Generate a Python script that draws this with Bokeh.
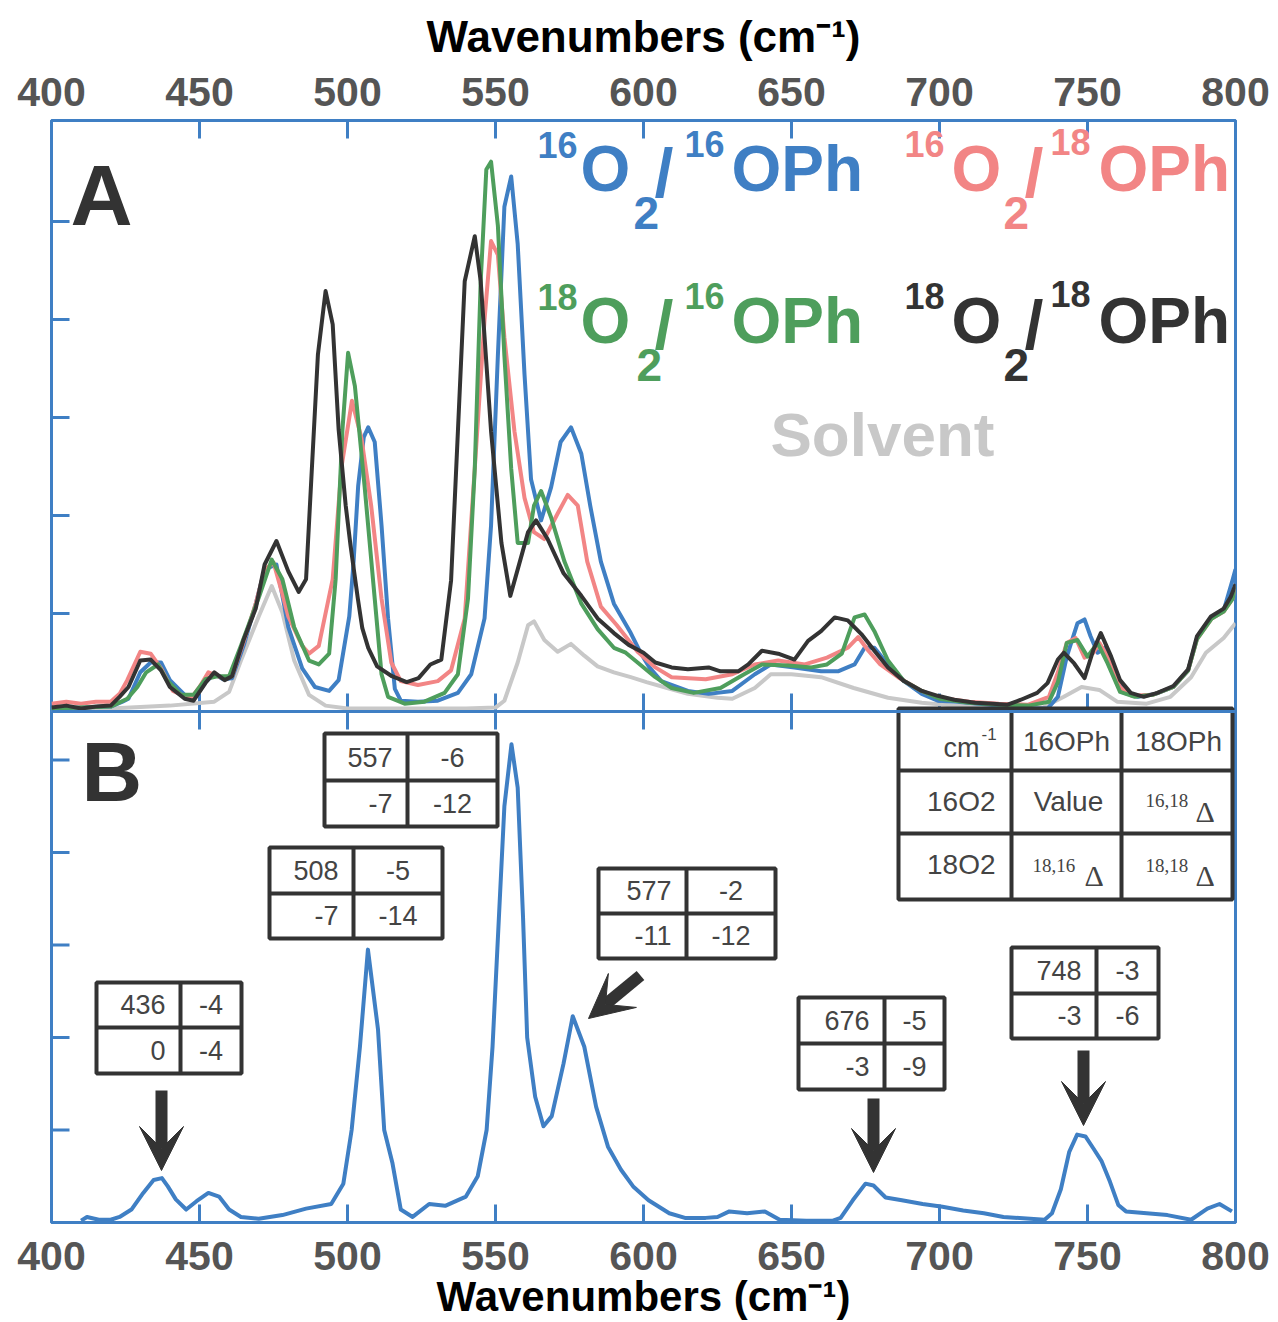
from bokeh.plotting import figure
from bokeh.models import LinearAxis, FixedTicker, Range1d, Span, Label, Arrow, VeeHead
from bokeh.embed import file_html
from bokeh.resources import INLINE

# ---------------- data ----------------
# Panel A: resonance Raman spectra of the four isotopologues + solvent
a16_16_x = [400, 410, 420, 424, 426, 430, 433.5, 437, 440, 445, 448, 452, 455, 458, 461, 465, 469, 472, 476, 480,
            484.7, 489, 493.8, 497, 500.6, 502, 503.6, 505.5, 507, 509.2, 511.5, 513.7, 516, 518, 523.8, 530.5, 537.3,
            541.8, 546.3, 548.5, 550.8, 553, 555.3, 557.5, 559.8, 562, 565.4, 568.8, 572, 575.5, 579, 582, 585.6, 590,
            595.7, 599, 602, 606, 615, 622, 630, 637.6, 643, 651, 660, 665.7, 671.3, 674.7, 678, 682.6, 688, 694, 699.4,
            706, 717, 728.6, 736.5, 740, 743, 746.6, 749, 751, 753.4, 756, 759, 762.4, 767, 773, 779, 784, 787, 791.7,
            796, 799, 800]
a16_16_y = [0.03, 0.04, 0.05, 0.1, 0.13, 0.4, 0.5, 0.5, 0.32, 0.17, 0.13, 0.3, 0.38, 0.33, 0.34, 0.68, 1.1, 1.45, 1.5,
            0.86, 0.44, 0.25, 0.21, 0.32, 0.97, 1.5, 2.3, 2.8, 2.9, 2.75, 1.9, 0.95, 0.23, 0.11, 0.1, 0.11, 0.19, 0.38,
            0.95, 1.9, 3.63, 5.15, 5.46, 4.77, 3.44, 2.37, 1.95, 2.29, 2.75, 2.9, 2.63, 2.1, 1.53, 1.1, 0.8, 0.6, 0.45,
            0.31, 0.21, 0.18, 0.21, 0.38, 0.48, 0.45, 0.41, 0.41, 0.48, 0.65, 0.65, 0.48, 0.31, 0.18, 0.11, 0.1, 0.07,
            0.03, 0.03, 0.15, 0.56, 0.9, 0.94, 0.77, 0.6, 0.65, 0.43, 0.19, 0.15, 0.18, 0.25, 0.42, 0.75, 0.95, 1.03,
            1.34, 1.45]

a16_18_x = [400, 405, 410, 415, 420, 423, 425.6, 430, 433.5, 437, 441, 447, 450, 453, 457, 461, 465, 469, 472, 475,
            478, 480, 484.7, 487, 490.3, 495, 498, 501.5, 504.7, 508, 511.5, 514.8, 518, 523.8, 530.5, 535, 539.6, 543,
            546.3, 548.5, 550.8, 553, 556.4, 559.8, 563, 566.5, 571, 574.4, 577.8, 581, 585.6, 591, 598, 604, 609.5,
            621, 630, 637.6, 645.5, 654.5, 662, 669, 672.5, 676, 680, 686, 694, 700, 710, 720, 730, 737, 740, 743, 746,
            749, 752, 754, 758, 761, 765, 772, 779, 784, 787, 792, 796, 799, 800]
a16_18_y = [0.08, 0.1, 0.08, 0.1, 0.1, 0.18, 0.32, 0.61, 0.59, 0.44, 0.21, 0.13, 0.25, 0.4, 0.35, 0.36, 0.72, 1.1,
            1.45, 1.52, 1.2, 0.97, 0.67, 0.59, 0.67, 1.35, 2.5, 3.17, 2.79, 2.1, 1.15, 0.5, 0.31, 0.27, 0.31, 0.42,
            0.95, 2.48, 4.0, 4.8, 4.66, 3.82, 2.86, 2.18, 1.83, 1.76, 2.02, 2.21, 2.1, 1.53, 1.07, 0.88, 0.61, 0.45,
            0.35, 0.33, 0.38, 0.48, 0.52, 0.48, 0.55, 0.65, 0.76, 0.62, 0.48, 0.35, 0.21, 0.14, 0.1, 0.08, 0.07, 0.15,
            0.4, 0.7, 0.75, 0.55, 0.6, 0.7, 0.5, 0.25, 0.16, 0.17, 0.25, 0.42, 0.74, 0.95, 1.02, 1.15, 1.28]

a18_16_x = [400, 410, 420, 425.6, 429, 432, 436, 439, 443.8, 448, 452, 456, 460, 464, 470, 474.4, 478, 482, 487,
            490.3, 493.8, 496, 498.3, 500.2, 502.5, 505.8, 509.2, 511.5, 513.7, 519.3, 526, 532.8, 537.3, 540.7, 543,
            545, 546.9, 548.5, 550.8, 553, 555.3, 557.5, 561, 563, 565.4, 568.8, 573.3, 579, 584.5, 590, 594, 598, 604,
            609.5, 617, 626, 634, 640, 649, 656.7, 662, 667, 671.3, 674.7, 678, 682.6, 688, 694, 700, 710, 720, 730,
            737, 740, 743, 746.6, 750, 753.4, 756.8, 761, 766, 772, 779, 784, 787, 792, 796, 799, 800]
a18_16_y = [0.03, 0.04, 0.05, 0.13, 0.25, 0.4, 0.48, 0.32, 0.17, 0.17, 0.33, 0.36, 0.36, 0.67, 1.16, 1.55, 1.35,
            0.86, 0.52, 0.48, 0.59, 1.35, 2.88, 3.66, 3.32, 2.29, 1.15, 0.38, 0.15, 0.08, 0.1, 0.19, 0.38, 1.15, 2.48,
            4.39, 5.53, 5.61, 4.96, 3.63, 2.48, 1.72, 1.72, 2.1, 2.25, 1.98, 1.53, 1.1, 0.84, 0.65, 0.6, 0.5, 0.35,
            0.24, 0.19, 0.24, 0.38, 0.48, 0.47, 0.45, 0.48, 0.59, 0.96, 0.99, 0.82, 0.52, 0.31, 0.21, 0.13, 0.09, 0.07,
            0.06, 0.1, 0.3, 0.7, 0.73, 0.56, 0.7, 0.49, 0.2, 0.15, 0.17, 0.25, 0.42, 0.74, 0.95, 1.02, 1.15, 1.28]

a18_18_x = [400, 405, 410, 415, 420, 423, 426, 430, 433.5, 437, 440, 445, 448, 452, 455, 458.5, 461, 465, 469, 472,
            476, 480, 483.5, 486, 488, 490, 492.6, 495, 497, 499.4, 501, 503.5, 505, 507, 510, 515, 520, 524, 528,
            531.7, 535, 537.3, 539.6, 543, 545, 548.5, 552, 555, 557.5, 561, 563.7, 567.6, 573, 579, 584.5, 590, 595,
            600, 604, 609.5, 615, 622, 626, 632, 635.4, 640, 645.5, 651, 655.6, 660, 664.6, 669, 673.6, 678, 682.6,
            688, 694, 699.4, 705, 712, 718, 723, 727.5, 733, 736.5, 740, 742, 745.5, 749, 752, 754.5, 758, 761, 764.6,
            769, 773.6, 779, 784, 787, 791.7, 796, 798.4, 800]
a18_18_y = [0.04, 0.06, 0.03, 0.05, 0.06, 0.15, 0.25, 0.52, 0.53, 0.42, 0.25, 0.13, 0.11, 0.29, 0.4, 0.32, 0.36,
            0.74, 1.05, 1.5, 1.74, 1.43, 1.22, 1.35, 2.5, 3.64, 4.29, 3.95, 2.88, 2.1, 1.7, 1.15, 0.85, 0.65, 0.46,
            0.36, 0.3, 0.34, 0.48, 0.53, 1.34, 2.86, 4.39, 4.85, 4.39, 2.86, 1.72, 1.18, 1.45, 1.83, 1.95, 1.76, 1.41,
            1.18, 0.95, 0.8, 0.68, 0.6, 0.5, 0.45, 0.43, 0.45, 0.41, 0.41, 0.48, 0.62, 0.59, 0.53, 0.72, 0.82, 0.96,
            0.93, 0.79, 0.62, 0.45, 0.31, 0.21, 0.16, 0.12, 0.09, 0.08, 0.07, 0.12, 0.19, 0.29, 0.53, 0.6, 0.49, 0.34,
            0.63, 0.8, 0.56, 0.32, 0.19, 0.15, 0.19, 0.26, 0.43, 0.77, 0.97, 1.05, 1.17, 1.3]

solvent_x = [400, 420, 440, 455, 460, 464, 470, 474.4, 478, 482, 487, 492.6, 500, 520, 540, 550, 553, 557.5, 561,
             563, 566.5, 571, 575.5, 580, 584.5, 590, 595.7, 601, 608, 615, 625, 630, 637.6, 643, 650, 660, 671,
             682.6, 694, 705, 720, 735, 742, 748, 754, 760, 770, 778, 785, 790, 796, 800]
solvent_y = [0.02, 0.03, 0.06, 0.1, 0.2, 0.52, 0.97, 1.28, 1.01, 0.52, 0.17, 0.06, 0.03, 0.03, 0.03, 0.04, 0.11,
             0.5, 0.88, 0.92, 0.73, 0.61, 0.69, 0.57, 0.46, 0.4, 0.35, 0.3, 0.24, 0.18, 0.14, 0.13, 0.24, 0.38, 0.38,
             0.35, 0.24, 0.14, 0.09, 0.06, 0.04, 0.04, 0.15, 0.25, 0.22, 0.1, 0.08, 0.15, 0.35, 0.6, 0.75, 0.9]

# Panel B: 16O2/16OPh spectrum
b_x = [410, 412, 416, 420, 423, 427, 431, 434.5, 437.3, 439.3, 442, 445.5, 449, 453, 456.6, 460, 464, 470, 478, 486,
       494.5, 498.6, 501.4, 504.2, 506.9, 510.3, 512.4, 515.2, 518, 522, 527.6, 533, 540, 544, 547, 549, 551, 553,
       555.4, 557.5, 559.3, 560.7, 563.4, 566.2, 569, 573, 576.1, 580, 584, 588, 592.4, 596.5, 601.7, 608.7, 614,
       621, 625, 629, 635, 641, 646, 655, 664, 666.6, 670.7, 675, 677.7, 681.8, 687.3, 694.3, 701, 708, 715, 721.6,
       735.5, 738, 741, 743.8, 746.5, 749.3, 752, 754.8, 757.6, 760.4, 763, 770, 777, 785, 790.5, 794.6, 798.8]
b_y = [0.02, 0.06, 0.03, 0.03, 0.06, 0.14, 0.32, 0.46, 0.48, 0.39, 0.25, 0.14, 0.23, 0.32, 0.28, 0.14, 0.06, 0.04,
       0.08, 0.15, 0.2, 0.42, 1.0, 1.9, 2.95, 2.09, 1.0, 0.64, 0.14, 0.06, 0.2, 0.18, 0.28, 0.5, 1.0, 1.9, 3.2, 4.5,
       5.17, 4.7, 3.3, 2.0, 1.36, 1.04, 1.15, 1.72, 2.23, 1.9, 1.25, 0.82, 0.57, 0.39, 0.24, 0.1, 0.05, 0.05, 0.06,
       0.12, 0.1, 0.12, 0.03, 0.02, 0.02, 0.05, 0.24, 0.42, 0.4, 0.27, 0.24, 0.2, 0.17, 0.13, 0.1, 0.06, 0.03, 0.1,
       0.36, 0.76, 0.95, 0.93, 0.8, 0.66, 0.44, 0.19, 0.12, 0.1, 0.08, 0.03, 0.15, 0.2, 0.12]

# isotope-shift tables (cm-1): value for 16O2/16OPh, and shifts
peak_values = [436, 508, 557, 577, 676, 748]
shift_16_18 = [-4, -5, -6, -2, -5, -3]
shift_18_16 = [0, -7, -7, -11, -3, -3]
shift_18_18 = [-4, -14, -12, -12, -9, -6]

x_ticks = [400, 450, 500, 550, 600, 650, 700, 750, 800]
y_ticks = [1, 2, 3, 4, 5]

# ---------------- layout / style ----------------
W, H = 1278, 1322
FL, FR, FT, FB = 51, 1235, 120, 1222
MID = 711
A_UNIT, B_UNIT = 98.0, 92.5
BLUE = "#3f7fc4"
RED = "#f28585"
GREEN = "#4e9e5c"
BLACK = "#333333"
GRAY = "#c8c8c8"
DARK = "#333333"
FONT = "Liberation Sans"
BASE_FIX = 0.38   # label baseline correction (fraction of font size)


def px_x(px):
    return 400 + (px - FL) * 400.0 / (FR - FL)


def py_b(py):
    return (FB - py) / B_UNIT


x_range = Range1d(400, 800)
b_range = Range1d(0, (FB - FT) / B_UNIT)
a_range = Range1d(-(FB - MID) / A_UNIT, (MID - FT) / A_UNIT)

p = figure(width=W, height=H, x_range=x_range, y_range=b_range, output_backend="svg",
           toolbar_location=None, min_border_left=FL, min_border_right=W - FR,
           min_border_top=FT, min_border_bottom=H - FB)
p.extra_y_ranges = {"A": a_range}
p.xgrid.visible = False
p.ygrid.visible = False
p.yaxis.visible = False
p.outline_line_color = BLUE
p.outline_line_width = 3
p.background_fill_color = "white"
p.border_fill_color = "white"


def style_x_axis(ax, standoff, label_standoff, label_size):
    ax.ticker = FixedTicker(ticks=x_ticks)
    ax.major_tick_in = 18
    ax.major_tick_out = 0
    ax.minor_tick_line_color = None
    ax.axis_line_color = BLUE
    ax.axis_line_width = 3
    ax.major_tick_line_color = BLUE
    ax.major_tick_line_width = 3
    ax.major_label_text_font = FONT
    ax.major_label_text_font_style = "bold"
    ax.major_label_text_font_size = "41px"
    ax.major_label_text_color = "#555555"
    ax.major_label_standoff = standoff
    ax.axis_label = "Wavenumbers (cm⁻¹)"
    ax.axis_label_text_font = FONT
    ax.axis_label_text_font_style = "bold"
    ax.axis_label_text_font_size = f"{label_size}px"
    ax.axis_label_text_color = "black"
    ax.axis_label_standoff = label_standoff


style_x_axis(p.xaxis[0], 19, 0, 42)
top_axis = LinearAxis()
style_x_axis(top_axis, 15, 14, 44)
p.add_layout(top_axis, "above")


def add_text(text, px, py, size, color, bold=True, align="left", font=FONT):
    p.add_layout(Label(x=px_x(px), y=py_b(py - BASE_FIX * size), text=text, text_font=font,
                       text_font_size=f"{size}px", text_font_style="bold" if bold else "normal",
                       text_color=color, text_align=align, text_baseline="alphabetic"))


# left ticks for both panels (pointing inwards)
tick_len = 18 * 400.0 / (FR - FL)
p.segment(x0=[400] * 5, y0=y_ticks, x1=[400 + tick_len] * 5, y1=y_ticks, line_color=BLUE, line_width=3)
p.segment(x0=[400] * 5, y0=y_ticks, x1=[400 + tick_len] * 5, y1=y_ticks, y_range_name="A",
          line_color=BLUE, line_width=3)

# border between panels, with ticks on both sides
p.add_layout(Span(location=0, dimension="width", y_range_name="A", line_color=BLUE, line_width=3))
mid_ticks = x_ticks[1:-1]
p.segment(x0=mid_ticks, y0=[0] * len(mid_ticks), x1=mid_ticks, y1=[18 / A_UNIT] * len(mid_ticks),
          y_range_name="A", line_color=BLUE, line_width=3)
b_top = (FB - MID) / B_UNIT
p.segment(x0=mid_ticks, y0=[b_top] * len(mid_ticks), x1=mid_ticks, y1=[b_top - 18 / B_UNIT] * len(mid_ticks),
          line_color=BLUE, line_width=3)

# ---------------- spectra ----------------
for xs, ys, col in [(solvent_x, solvent_y, GRAY), (a16_16_x, a16_16_y, BLUE), (a16_18_x, a16_18_y, RED),
                    (a18_16_x, a18_16_y, GREEN), (a18_18_x, a18_18_y, BLACK)]:
    p.line(xs, ys, y_range_name="A", line_color=col, line_width=4, line_join="round")

p.line(b_x, b_y, line_color=BLUE, line_width=4, line_join="round")

# legend labels in panel A
legend_specs = [
    (BLUE, 0, [("16", 537, 158, 36), ("O", 580, 193, 64), ("2", 633, 230, 46), ("/", 654, 198, 68),
               ("16", 684, 157, 36), ("OPh", 731, 193, 64)]),
    (RED, 0, [("16", 904, 157, 36), ("O", 951, 193, 64), ("2", 1003, 230, 46), ("/", 1024, 198, 68),
              ("18", 1050, 155, 36), ("OPh", 1098, 193, 64)]),
    (GREEN, 152, [("18", 537, 158, 36), ("O", 580, 193, 64), ("2", 636, 230, 46), ("/", 654, 198, 68),
                  ("16", 684, 157, 36), ("OPh", 731, 193, 64)]),
    (BLACK, 152, [("18", 904, 157, 36), ("O", 951, 193, 64), ("2", 1003, 230, 46), ("/", 1024, 198, 68),
                  ("18", 1050, 155, 36), ("OPh", 1098, 193, 64)]),
]
for col, dy, parts in legend_specs:
    for t, px, py, s in parts:
        add_text(t, px, py + dy, s, col)

add_text("Solvent", 770, 458, 62, GRAY)
add_text("A", 70, 227, 86, DARK)
add_text("B", 81, 803, 84, DARK)

# ---------------- shift tables ----------------
TAB_LINE = 4


def draw_box(cols, rows):
    left, right = cols[0], cols[-1]
    top, bottom = rows[0], rows[-1]
    p.quad(left=[px_x(left)], right=[px_x(right)], top=[py_b(top)], bottom=[py_b(bottom)],
           fill_color="white", line_color=DARK, line_width=TAB_LINE)
    for c in cols[1:-1]:
        p.segment(x0=[px_x(c)], y0=[py_b(top)], x1=[px_x(c)], y1=[py_b(bottom)], line_color=DARK,
                  line_width=TAB_LINE)
    for r in rows[1:-1]:
        p.segment(x0=[px_x(left)], y0=[py_b(r)], x1=[px_x(right)], y1=[py_b(r)], line_color=DARK,
                  line_width=TAB_LINE)


# box geometry (px): left, divider, right, top, middle, bottom
table_boxes = [(96, 180, 241, 982, 1027, 1073),
               (269, 353, 442, 847, 893, 938),
               (324, 407, 497, 733, 780, 826),
               (598, 686, 775, 868, 913, 958),
               (798, 884, 944, 997, 1043, 1089),
               (1011, 1096, 1158, 947, 993, 1038)]
TXT = "#444444"
for i, (l, d, r, t, m, b) in enumerate(table_boxes):
    draw_box([l, d, r], [t, m, b])
    cells = [[str(peak_values[i]), str(shift_16_18[i])], [str(shift_18_16[i]), str(shift_18_18[i])]]
    for row, base in zip(cells, [m - 13, b - 13]):
        add_text(row[0], d - 15, base, 27, TXT, bold=False, align="right")
        add_text(row[1], (d + r) / 2, base, 27, TXT, bold=False, align="center")

# key table
draw_box([898, 1011, 1121, 1232], [708, 770, 833, 899])
add_text("cm", 979, 758, 27, TXT, bold=False, align="right")
add_text("-1", 981, 740, 17, TXT, bold=False)
add_text("16OPh", 1066, 752, 28, TXT, bold=False, align="center")
add_text("18OPh", 1178, 752, 28, TXT, bold=False, align="center")
add_text("16O2", 995, 812, 28, TXT, bold=False, align="right")
add_text("Value", 1068, 812, 28, TXT, bold=False, align="center")
add_text("18O2", 995, 875, 28, TXT, bold=False, align="right")
SERIF = "Liberation Serif"
for lab, px, py in [("16,18", 1145, 807), ("18,16", 1032, 872), ("18,18", 1145, 872)]:
    add_text(lab, px, py, 19, TXT, bold=False, font=SERIF)
for px, py in [(1195, 822), (1084, 886), (1195, 886)]:
    add_text("Δ", px, py, 30, TXT, bold=False, font=SERIF)

# ---------------- arrows ----------------
arrow_specs = [((161, 1090), (161, 1170)), ((640, 975), (588, 1018)), ((873, 1098), (873, 1172)),
               ((1083, 1050), (1083, 1125))]
for (tx, ty), (hx, hy) in arrow_specs:
    dx, dy = hx - tx, hy - ty
    ln = (dx * dx + dy * dy) ** 0.5
    sx, sy = hx - 22 * dx / ln, hy - 22 * dy / ln
    p.segment(x0=[px_x(tx)], y0=[py_b(ty)], x1=[px_x(sx)], y1=[py_b(sy)], line_color=DARK, line_width=12)
    p.add_layout(Arrow(end=VeeHead(size=44, fill_color=DARK, line_color=DARK, line_width=1),
                       x_start=px_x(tx), y_start=py_b(ty), x_end=px_x(hx), y_end=py_b(hy), line_alpha=0))

open("out.html", "w").write(file_html(p, INLINE))
